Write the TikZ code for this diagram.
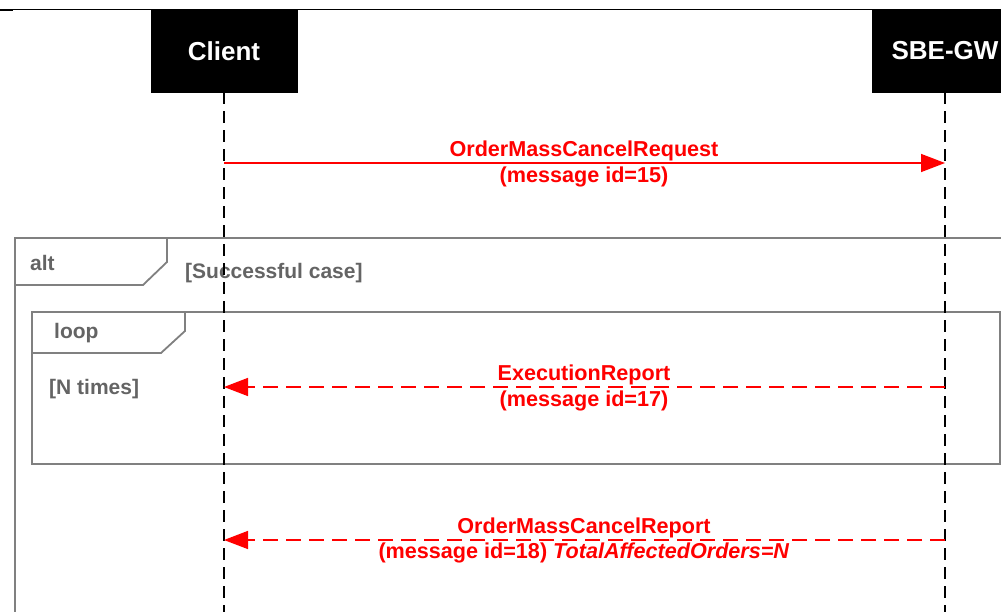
\documentclass[tikz,border=0pt]{standalone}
\usepackage{fontspec}
\setmainfont{Liberation Sans}
\usetikzlibrary{arrows.meta}
\definecolor{msgred}{RGB}{255,0,0}
\definecolor{framegray}{RGB}{128,128,128}
\definecolor{textgray}{RGB}{100,100,100}
\tikzset{
  actor/.style={fill=black, draw=black, minimum width=146bp, minimum height=82bp, inner sep=0pt,
    text=white, font=\fontsize{26bp}{30bp}\selectfont\bfseries},
  lifeline/.style={draw=black, line width=1.8bp, dash pattern=on 12bp off 7bp},
  syncmsg/.style={draw=msgred, line width=1.5bp, -{Triangle[length=24bp,width=18bp]}},
  replymsg/.style={draw=msgred, line width=1.5bp, dash pattern=on 15bp off 8bp, -{Triangle[length=24bp,width=18bp]}},
  msglabel/.style={text=msgred, font=\fontsize{21.6bp}{25bp}\selectfont\bfseries, inner sep=0pt},
  frameline/.style={draw=framegray, line width=1.8bp},
  framelabel/.style={text=textgray, font=\fontsize{21bp}{25bp}\selectfont\bfseries, inner sep=0pt, anchor=west},
}
\begin{document}
\begin{tikzpicture}[x=1bp,y=-1bp]
\useasboundingbox (0,0) rectangle (1001,612);
\clip (0,0) rectangle (1001,612);
\fill[white] (0,0) rectangle (1001,612);
% top rule
\draw[black, line width=1bp] (0,9.5) -- (1001,9.5);
\draw[black, line width=2bp] (0,10.5) -- (13,10.5);
% alt frame
\draw[frameline] (15,238) rectangle (1010,630);
\draw[frameline] (15,285) -- (143,285) -- (167,262) -- (167,238);
\node[framelabel] (altlbl) at (30,263) {alt};
\node[framelabel] (altguard) at (185,273.5) {[Successful case]};
% loop frame
\draw[frameline] (32,312) rectangle (1000,464);
\draw[frameline] (32,353) -- (161,353) -- (185,331) -- (185,312);
\node[framelabel] (looplbl) at (54,333) {loop};
\node[framelabel] (loopguard) at (49,389.5) {[N times]};
% actors
\node[actor] (client) at (224,51) {Client};
\node[actor] (gw) at (945,51) {SBE-GW};
\coordinate (clientEnd) at (224,615);
\coordinate (gwEnd) at (945,615);
\draw[lifeline] (client.south) -- (clientEnd);
\draw[lifeline] (gw.south) -- (gwEnd);
% messages
\coordinate (c1) at (224,163);
\coordinate (g1) at (945,163);
\draw[syncmsg] (c1) -- (g1);
\node[msglabel] (m1a) at (584,151) {OrderMassCancelRequest};
\node[msglabel] (m1b) at (584,177) {(message id=15)};
\coordinate (c2) at (224,387);
\coordinate (g2) at (945,387);
\draw[replymsg] (g2) -- (c2);
\node[msglabel] (m2a) at (584,375) {ExecutionReport};
\node[msglabel] (m2b) at (584,401) {(message id=17)};
\coordinate (c3) at (224,540);
\coordinate (g3) at (945,540);
\draw[replymsg] (g3) -- (c3);
\node[msglabel] (m3a) at (584,528) {OrderMassCancelReport};
\node[msglabel] (m3b) at (584,553) {(message id=18) \textit{TotalAffectedOrders=N}};
\end{tikzpicture}
\end{document}
